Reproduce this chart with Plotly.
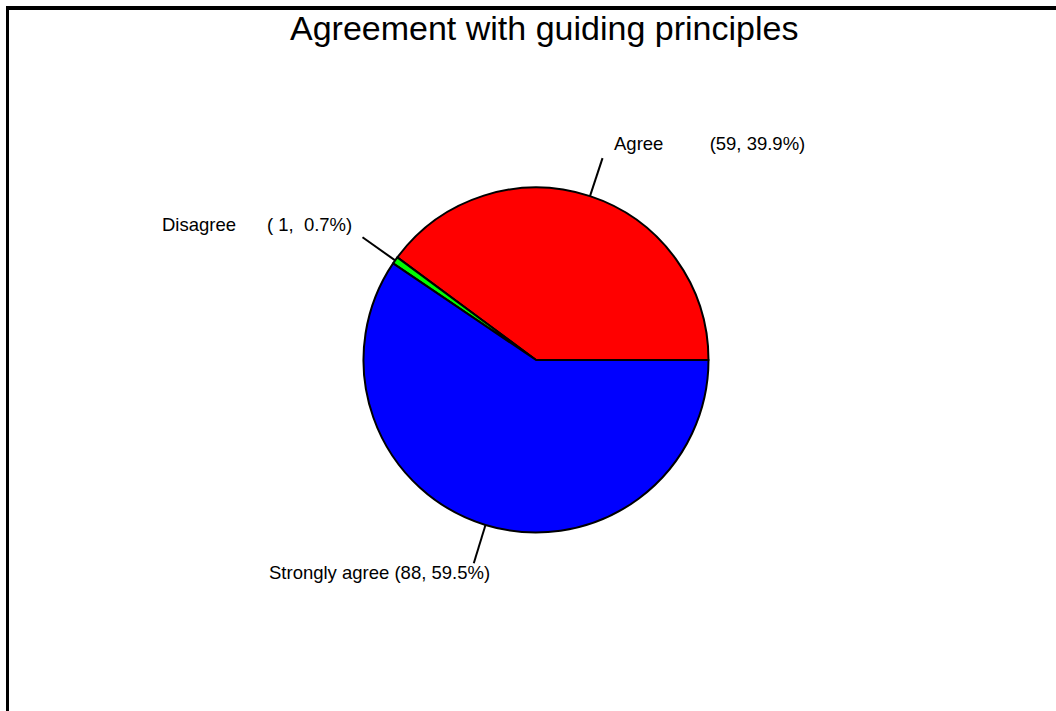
import math
import plotly.graph_objects as go

# Survey responses, in drawing order (counterclockwise from 3 o'clock)
categories = ["Agree", "Disagree", "Strongly agree"]
counts = [59, 1, 88]
slice_colors = ["#FF0000", "#00FF00", "#0000FF"]

W, H = 1056, 711
CX, CY, R = 536.0, 360.0, 172.5  # pie centre and radius in pixels

total = sum(counts)
pcts = [100.0 * c / total for c in counts]
labels = [f"{name:<13} ({c:2d}, {p:4.1f}%)".replace(" ", "\u00a0")
          for name, c, p in zip(categories, counts, pcts)]

# plotly lays counterclockwise slices so the first one ends at `rotation`;
# shift it so the first slice begins at 3 o'clock instead
first_span = 360.0 * counts[0] / total
rotation = 90 - first_span


def px_to_paper(x, y):
    return x / W, 1 - y / H


fig = go.Figure(go.Pie(
    labels=categories,
    values=counts,
    sort=False,
    direction="counterclockwise",
    rotation=rotation,
    marker=dict(colors=slice_colors, line=dict(color="black", width=2)),
    textinfo="none",
    hoverinfo="label+value+percent",
    showlegend=False,
    domain=dict(x=[(CX - R) / W, (CX + R) / W],
                y=[1 - (CY + R) / H, 1 - (CY - R) / H]),
))

# label placement relative to the outer end of each leader line
label_style = {
    "Agree": dict(xanchor="left", xshift=9, yshift=15),
    "Disagree": dict(xanchor="right", xshift=-9, yshift=13),
    "Strongly agree": dict(xanchor="right", xshift=18, yshift=-9),
}

shapes = []
annotations = []
start = 0.0
for name, c, text in zip(categories, counts, labels):
    span = 360.0 * c / total
    mid = math.radians(start + span / 2)
    start += span
    x0, y0 = CX + R * math.cos(mid), CY - R * math.sin(mid)
    x1, y1 = CX + (R + 40) * math.cos(mid), CY - (R + 40) * math.sin(mid)
    a0, b0 = px_to_paper(x0, y0)
    a1, b1 = px_to_paper(x1, y1)
    shapes.append(dict(type="line", xref="paper", yref="paper",
                       x0=a0, y0=b0, x1=a1, y1=b1,
                       line=dict(color="black", width=2)))
    st = label_style[name]
    annotations.append(dict(text=text, xref="paper", yref="paper",
                            x=a1, y=b1, showarrow=False,
                            xanchor=st["xanchor"], yanchor="middle",
                            xshift=st["xshift"], yshift=st["yshift"],
                            font=dict(family="Liberation Sans, Arial", size=18.5,
                                      color="black")))

# chart title
tx, ty = px_to_paper(544, 28)
annotations.append(dict(text="Agreement with guiding principles",
                        xref="paper", yref="paper", x=tx, y=ty,
                        showarrow=False, xanchor="center", yanchor="middle",
                        font=dict(family="Liberation Sans, Arial", size=34,
                                  color="black")))

# frame edges along the top and left
fx0, fy0 = px_to_paper(7.5, 8)
shapes.append(dict(type="line", xref="paper", yref="paper",
                   x0=fx0 - 1.5 / W, y0=fy0, x1=1, y1=fy0,
                   line=dict(color="black", width=4)))
shapes.append(dict(type="line", xref="paper", yref="paper",
                   x0=fx0, y0=fy0 + 2 / H, x1=fx0, y1=0,
                   line=dict(color="black", width=3)))

fig.update_layout(
    width=W, height=H,
    margin=dict(l=0, r=0, t=0, b=0),
    paper_bgcolor="white", plot_bgcolor="white",
    shapes=shapes, annotations=annotations,
)

fig.write_html("out.html")
